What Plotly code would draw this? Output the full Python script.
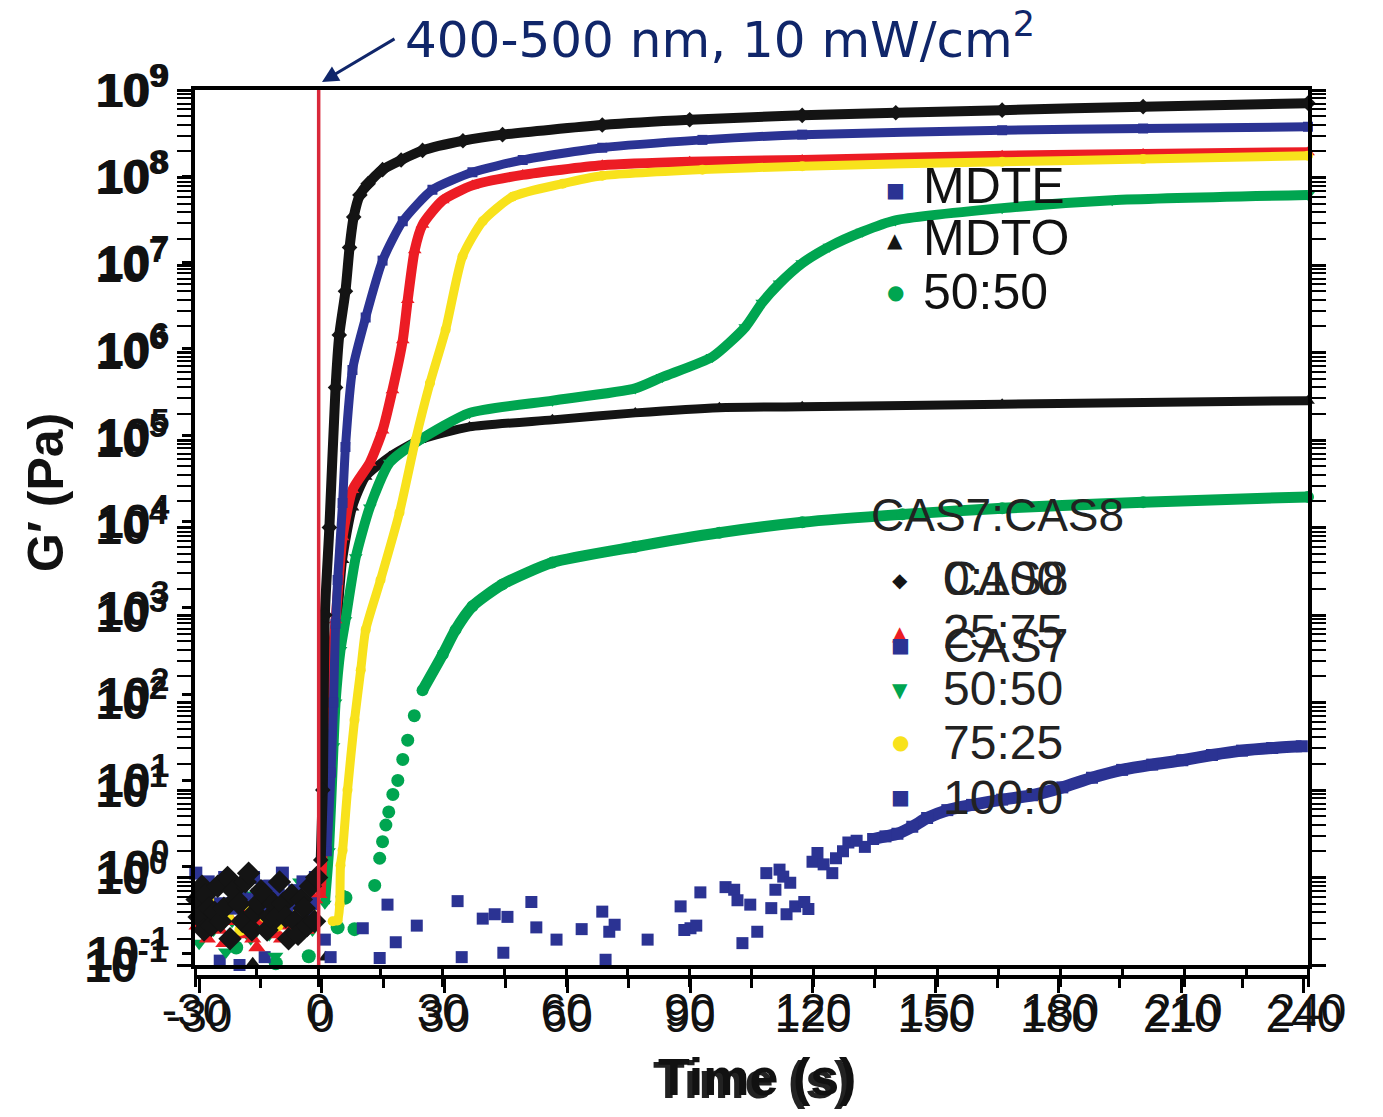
import numpy as np
import plotly.graph_objects as go

# ---------------- data (time in s, log10 of G' in Pa) ----------------
# CAS7:CAS8 = 0:100 (black diamonds)
d0_noise_t = [-29.5, -29, -28.3, -27.8, -27.5, -26.6, -26, -25.2, -24.5, -23.8, -23, -22.1, -21.5, -20.7, -20,
              -19.3, -18.5, -17.8, -17, -16.2, -15.5, -14.8, -14, -13.1, -12.5, -11.8, -11, -10.2, -9.5, -8.7,
              -8, -7.3, -6.5, -5.8, -5, -4.2, -3.5, -2.8, -2, -1, -0.5]
d0_noise_lg = [-0.25, -0.45, -0.1, -0.6, -0.2, -0.35, -0.55, -0.4, -0.1, -0.5, -0.35, 0.0, -0.7, -0.15, -0.25,
               -0.3, -0.5, -0.05, 0.05, -0.6, -0.4, -0.3, -0.15, -0.2, -0.6, -0.45, -0.3, -0.45, -0.05, -0.3,
               -0.45, -0.7, -0.2, -0.5, -0.65, -0.25, -0.35, -0.55, -0.1, -0.5, 0.0]
d0_cure_t = [0.5, 1.0, 1.5, 2.6, 4.1, 5.0, 6.5, 7.5, 8.5, 10, 12, 15.5, 20, 25.2, 35, 44.6, 68.8, 90, 117.3,
             140, 165.8, 200, 240]
d0_cure_lg = [0.2, 1.0, 3.0, 4.0, 5.6, 6.2, 6.7, 7.2, 7.55, 7.8, 7.93, 8.09, 8.2, 8.31, 8.42, 8.49, 8.6, 8.66,
              8.71, 8.74, 8.77, 8.81, 8.85]

# 25:75 (red triangles)
r_noise_t = [-29.5, -28, -27, -26, -25, -24, -23, -22, -21, -20, -19, -18, -17, -16, -15, -14, -13, -12, -11,
             -10, -9, -8, -7, -6, -5, -4, -3, -2, -1]
r_noise_lg = [-0.55, -0.35, -0.7, -0.5, -0.4, -0.6, -0.75, -0.45, -0.5, -0.3, -0.65, -0.55, -0.35, -0.7, -0.8,
              -0.5, -0.6, -0.4, -0.45, -0.65, -0.7, -0.5, -0.55, -0.3, -0.3, -0.6, -0.6, -0.4, -0.25]
r_cure_t = [0.5, 1.5, 2.4, 4.1, 5.8, 8.2, 12.4, 15.5, 17.9, 20.4, 21.6, 23.3, 25.2, 30.1, 37.3, 49.5, 68.8, 90,
            117.3, 165.8, 200, 240]
r_cure_lg = [-0.2, 0.89, 2.03, 2.94, 3.89, 4.43, 4.74, 5.11, 5.57, 6.14, 6.6, 7.17, 7.46, 7.74, 7.91, 8.03,
             8.14, 8.18, 8.2, 8.25, 8.27, 8.29]

# 50:50 (green down-triangles)
g_noise_t = [-29, -27.5, -25.5, -24, -22.5, -21, -19.5, -18, -16.5, -15, -13.5, -12, -10.5, -9, -7.5, -6,
             -4.5, -3, -1.5]
g_noise_lg = [-0.75, -0.45, -0.6, -0.3, -0.85, -0.5, -0.5, -0.2, -0.7, -0.55, -0.2, -0.65, -0.9, -0.35, -0.4,
              -0.6, -0.05, -0.3, -0.6]
g_cure_t = [1.5, 2.5, 3.6, 4.1, 5.3, 6.5, 9.0, 12.4, 17.2, 24.5, 36.6, 56.7, 76.8, 83.4, 95.5, 103.5, 107.6,
            111.8, 117.3, 123.9, 131.9, 139.9, 165.8, 192.5, 240]
g_cure_lg = [-0.3, 0.3, 1.5, 2.0, 2.6, 2.94, 3.66, 4.23, 4.74, 5.0, 5.31, 5.45, 5.59, 5.72, 5.95, 6.29, 6.57,
             6.79, 7.02, 7.21, 7.38, 7.51, 7.65, 7.74, 7.8]

# 75:25 (yellow circles)
y_noise_t = [-28, -25, -22, -19, -16.5, -13, -10, -7, -4.5, -2]
y_noise_lg = [-0.5, -0.3, -0.45, -0.6, -0.35, -0.45, -0.55, -0.35, -0.5, -0.4]
y_cure_t = [3.4, 4.6, 5.1, 5.3, 5.8, 7.0, 8.7, 10.2, 11.4, 15.0, 19.6, 23.5, 27.0, 30.8, 34.9, 39.8, 47.0,
            59.2, 68.8, 93.1, 117.3, 165.8, 200, 240]
y_cure_lg = [-0.5, -0.49, -0.31, 0.14, 0.31, 1.0, 1.8, 2.37, 2.83, 3.4, 4.17, 5.0, 5.65, 6.26, 7.1, 7.5, 7.78,
             7.93, 8.02, 8.09, 8.13, 8.18, 8.21, 8.25]

# 100:0 (blue squares)
b_noise_t = [-29.8, -28.8, -27.8, -26.8, -25.8, -24.8, -23.8, -22.8, -21.8, -20.8, -19.8, -18.8, -17.8, -16.8,
             -15.8, -14.8, -13.8, -12.8, -11.8, -10.8, -9.8, -8.8, -7.8, -6.8, -5.8, -4.8, -3.8, -2.8, -1.8, -0.8]
b_noise_lg = [0.05, -0.3, -0.2, -0.05, -0.1, -0.45, -0.3, 0.0, -0.05, -0.35, -0.15, -0.1, -0.25, -0.5, 0.0,
              -0.2, -0.35, -0.1, -0.1, -0.3, -0.2, 0.05, -0.4, -0.25, -0.15, -0.3, -0.05, -0.45, -0.3, 0.0]
b_cure_t = [2.0, 3.0, 3.6, 4.1, 4.6, 5.8, 6.5, 8.2, 11.4, 15.5, 20.4, 27.6, 37.3, 49.5, 68.8, 93.1, 117.3,
            165.8, 200, 240]
b_cure_lg = [0.3, 1.2, 2.0, 2.9, 3.4, 4.28, 4.92, 5.8, 6.4, 7.05, 7.5, 7.86, 8.06, 8.2, 8.34, 8.43, 8.49, 8.54,
             8.56, 8.58]

# MDTE (blue squares, second data set)
me_scatter_t = [-24.0, -19.2, -13.1, -6.0, 1.5, 2.9, 10.7, 14.8, 16.7, 18.7, 20.8, 23.8, 28.8, 33.7, 34.7,
                39.8, 42.7, 44.8, 45.8, 51.6, 52.8, 57.7, 58.7, 63.8, 68.8, 69.6, 70.5, 71.8, 79.8, 84.6, 87.8,
                88.7, 90.2, 91.6, 92.6, 98.7, 100.8, 101.6, 102.8, 103.5, 104.7, 106.4, 108.6, 109.8, 110.8,
                111.8, 112.7, 113.5, 114.4, 115.6, 117.8, 118.8, 119.8, 121.0, 122.5, 124.6, 125.5, 127.2,
                128.5, 130.5, 132.5]
me_scatter_lg = [-0.95, -1.0, -0.91, -0.3, -0.71, -0.91, -0.58, -0.92, -0.31, -0.74, -1.08, -0.55, -1.08,
                 -0.27, -0.91, -0.47, -0.42, -0.86, -0.45, -0.28, -0.57, -0.71, -1.02, -0.59, -0.39, -0.94,
                 -0.62, -0.54, -0.71, -1.08, -0.33, -0.6, -0.58, -0.55, -0.17, -0.11, -0.14, -0.26, -0.75,
                 -1.08, -0.31, -0.62, 0.05, -0.35, -0.14, 0.09, 0.01, -0.42, -0.06, -0.33, -0.28, -0.36, 0.18,
                 0.28, 0.15, 0.05, 0.22, 0.3, 0.4, 0.42, 0.35]
me_band_t = [134.5, 137.5, 140.4, 144.0, 147.6, 152.5, 158.5, 165.8, 173.1, 180.4, 187.6, 194.9, 202.2, 209.5,
             216.7, 224.0, 231.3, 238.5]
me_band_lg = [0.44, 0.47, 0.5, 0.58, 0.68, 0.77, 0.83, 0.89, 0.94, 1.03, 1.14, 1.23, 1.29, 1.34, 1.4, 1.45,
              1.48, 1.5]

# MDTO (black triangles)
mo_noise_t = [-16.0, -5.1, 1.7]
mo_noise_lg = [-0.98, -1.02, -0.91]
mo_cure_t = [3.4, 4.6, 5.8, 8.2, 11.4, 17.2, 24.5, 36.6, 56.7, 76.8, 97.2, 117.3, 165.8, 240]
mo_cure_lg = [2.0, 2.94, 3.63, 4.23, 4.58, 4.81, 5.0, 5.15, 5.23, 5.31, 5.37, 5.38, 5.41, 5.45]

# 50:50 of the MDTE/MDTO set (green circles)
gc_noise_t = [-20.0, -10.4, -2.4, 4.6, 5.8, 6.5, 8.7]
gc_noise_lg = [-0.8, -0.98, -0.9, -0.57, -0.22, -0.23, -0.59]
gc_rise_t = [13.6, 14.8, 15.5, 16.3, 17.0, 18.0, 19.2, 20.4, 21.6, 23.2]
gc_rise_lg = [-0.09, 0.22, 0.41, 0.6, 0.75, 0.95, 1.11, 1.35, 1.57, 1.85]
gc_cure_t = [25.2, 30.1, 33.2, 37.3, 44.6, 56.7, 76.8, 97.2, 117.3, 141.6, 165.8, 200, 240]
gc_cure_lg = [2.14, 2.55, 2.83, 3.1, 3.35, 3.6, 3.78, 3.94, 4.06, 4.15, 4.22, 4.29, 4.35]

irradiation_t = 0          # light switched on
y_decades = list(range(-1, 10))
x_ticks = list(range(-30, 241, 30))
x_ticktext = [str(v) for v in x_ticks]

# ---------------- styling ----------------
BLACK, RED, GREEN, YELLOW, BLUE = "#141414", "#ec1c24", "#00a550", "#f8e21c", "#2b3393"
NAVY = "#10266a"

OFF = 8                      # default page body margin of the written html
W, H = 1383 - 2 * OFF, 1117 - 2 * OFF
PLOT_L, PLOT_R, PLOT_T, PLOT_B = 195, 1308, 90, 977   # plot area in page pixels
L, T = PLOT_L - OFF, PLOT_T - OFF
PW, PH = PLOT_R - PLOT_L, PLOT_B - PLOT_T
R, B = W - L - PW, H - T - PH
Y0 = 12 / PH


def px(xp):
    return (xp - PLOT_L) / PW


def py(yp):
    return (PLOT_B - yp) / PH


def G(lg):
    return [10 ** v for v in lg]


fig = go.Figure()


def add_markers(t, lg, color, symbol, size):
    fig.add_trace(go.Scatter(x=t, y=G(lg), mode="markers", cliponaxis=False, showlegend=False,
                             hoverinfo="skip", marker=dict(symbol=symbol, size=size, color=color,
                                                           line=dict(width=0))))


def add_curve(t, lg, color, symbol, size, lw):
    fig.add_trace(go.Scatter(x=t, y=G(lg), mode="lines+markers", cliponaxis=False, showlegend=False,
                             hoverinfo="skip",
                             line=dict(color=color, width=lw, shape="spline", smoothing=0.6),
                             marker=dict(symbol=symbol, size=size, color=color, line=dict(width=0))))


# second data set (MDTE / MDTO / 50:50)
add_markers(mo_noise_t, mo_noise_lg, BLACK, "triangle-up", 13)
add_curve(mo_cure_t, mo_cure_lg, BLACK, "triangle-up", 12, 9)
add_markers(gc_noise_t, gc_noise_lg, GREEN, "circle", 14)
add_markers(gc_rise_t, gc_rise_lg, GREEN, "circle", 13)
add_curve(gc_cure_t, gc_cure_lg, GREEN, "circle", 12, 11)
add_markers(me_scatter_t, me_scatter_lg, BLUE, "square", 12)
add_curve(me_band_t, me_band_lg, BLUE, "square", 12, 12)

# first data set (CAS7:CAS8)
add_markers(g_noise_t, g_noise_lg, GREEN, "triangle-down", 14)
add_curve(g_cure_t, g_cure_lg, GREEN, "triangle-down", 12, 10)
add_markers(r_noise_t, r_noise_lg, RED, "triangle-up", 15)
add_curve(r_cure_t, r_cure_lg, RED, "triangle-up", 12, 10)
add_markers(y_noise_t, y_noise_lg, YELLOW, "circle", 12)
add_curve(y_cure_t, y_cure_lg, YELLOW, "circle", 10, 9)
add_markers(b_noise_t, b_noise_lg, BLUE, "square", 13)
add_curve(b_cure_t, b_cure_lg, BLUE, "square", 10, 9)
add_markers(d0_noise_t, d0_noise_lg, BLACK, "diamond", 18)
add_curve(d0_cure_t, d0_cure_lg, BLACK, "diamond", 12, 10)

# irradiation start line
fig.add_trace(go.Scatter(x=[irradiation_t, irradiation_t], y=[10 ** y_decades[0], 10 ** y_decades[-1]],
                         mode="lines", line=dict(color="#d9283a", width=3.5), showlegend=False,
                         hoverinfo="skip"))

# dummy traces that activate the ghost (second) axes
fig.add_trace(go.Scatter(x=[None], y=[None], xaxis="x2", yaxis="y", showlegend=False, hoverinfo="skip"))
fig.add_trace(go.Scatter(x=[None], y=[None], xaxis="x", yaxis="y2", showlegend=False, hoverinfo="skip"))

ytext = [f"10<sup>{k}</sup>" for k in y_decades]
yvals = [10 ** k for k in y_decades]
yminor = [m * 10 ** k for k in y_decades[:-1] for m in range(2, 10)]

tick_font_x = dict(family="Liberation Sans", size=46, color="#111")
tick_font_y = dict(family="Liberation Sans", size=48, color="#111", weight="bold")

fig.update_layout(
    width=W, height=H, margin=dict(l=L, r=R, t=T, b=B, autoexpand=False),
    paper_bgcolor="white", plot_bgcolor="white",
    xaxis=dict(range=[-30, 240], tickmode="array", tickvals=x_ticks, ticktext=x_ticktext, ticks="outside",
               ticklen=18, tickwidth=3, tickcolor="black", showline=True, linewidth=4, linecolor="black",
               mirror=True, showgrid=False, zeroline=False, tickfont=tick_font_x, anchor="y",
               automargin=False, ticklabelstandoff=-16,
               minor=dict(dtick=15, tick0=-30, ticks="outside", ticklen=10, tickwidth=2.5,
                          tickcolor="black", showgrid=False)),
    xaxis2=dict(range=[-31, 241], overlaying="x", anchor="free", position=0, tickmode="array",
                tickvals=x_ticks, ticktext=x_ticktext, ticks="outside", ticklen=14, tickwidth=3,
                tickcolor="black", showline=True, linewidth=4, linecolor="black", showgrid=False,
                zeroline=False, tickfont=tick_font_x, automargin=False, ticklabelstandoff=-16,
                minor=dict(dtick=15, tick0=-30, ticks="outside", ticklen=9, tickwidth=2.5,
                           tickcolor="black", showgrid=False)),
    yaxis=dict(type="log", range=[-1, 9], domain=[Y0, 1], tickmode="array", tickvals=yvals, ticktext=ytext,
               ticks="outside", ticklen=14, tickwidth=3, tickcolor="black", showline=True, linewidth=4,
               linecolor="black", mirror="allticks", showgrid=False, zeroline=False, tickfont=tick_font_y,
               automargin=False,
               minor=dict(tickmode="array", tickvals=yminor, ticks="outside", ticklen=8, tickwidth=2,
                          tickcolor="black", showgrid=False)),
    yaxis2=dict(type="log", range=[-1.139, 9], overlaying="y", anchor="x", side="left", tickmode="array",
                tickvals=yvals, ticktext=ytext, ticks="outside", ticklen=12, tickwidth=2.5,
                tickcolor="black", showline=False, showgrid=False, zeroline=False, tickfont=tick_font_y,
                ticklabelstandoff=3, automargin=False),
    showlegend=False,
)

ann = []


def text_at(text, xp, yp, size, color="#111", family="Liberation Sans", xanchor="center", weight="normal",
            angle=0, dx=0, dy=0):
    ann.append(dict(text=text, x=px(xp), y=py(yp), xref="paper", yref="paper", showarrow=False,
                    xanchor=xanchor, yanchor="middle", textangle=angle, xshift=dx, yshift=dy,
                    font=dict(family=family, size=size, color=color, weight=weight)))


# axis titles (slightly doubled like the overlaid original)
text_at("Time (s)", 752, 1080, 52, color="#222", weight="bold")
text_at("Time (s)", 752, 1080, 52, color="#111", weight="bold", dx=5, dy=3)
text_at("G′ (Pa)", 46, 493, 50, weight="bold", angle=-90)

# irradiation note with arrow
text_at("400-500 nm, 10 mW/cm<sup>2</sup>", 403, 36, 50, color=NAVY, family="DejaVu Sans", xanchor="left")
ann.append(dict(text="", x=px(322), y=py(82), xref="paper", yref="paper", ax=74, ay=-44, showarrow=True,
                arrowhead=2, arrowsize=1.1, arrowwidth=3, arrowcolor=NAVY, standoff=0))

# legend of the MDTE/MDTO set
leg1 = [("■", BLUE, 190, "MDTE", 186), ("▲", BLACK, 240, "MDTO", 238), ("●", GREEN, 292, "50:50", 292)]
for sym, col, ys, lab, yl in leg1:
    text_at(sym, 895, ys, 20, color=col, family="DejaVu Sans")
    text_at(lab, 921, yl, 50, color="#111", xanchor="left")

# legend of the CAS7:CAS8 set
text_at("CAS7:CAS8", 869, 515, 46, color="#222", xanchor="left")
leg2 = [("◆", BLACK, 580, "0:100", 578), ("▲", RED, 633, "25:75", 631), ("■", BLUE, 645, "CAS7", 645),
        ("▼", GREEN, 690, "50:50", 688), ("●", YELLOW, 742, "75:25", 742), ("■", BLUE, 797, "100:0", 797)]
for sym, col, ys, lab, yl in leg2:
    text_at(sym, 900, ys, 20, color=col, family="DejaVu Sans")
    text_at(lab, 941, yl, 48, color="#222", xanchor="left")
text_at("CAS8", 941, 578, 48, color="#222", xanchor="left")

fig.update_layout(annotations=ann)
fig.write_html("out.html")
